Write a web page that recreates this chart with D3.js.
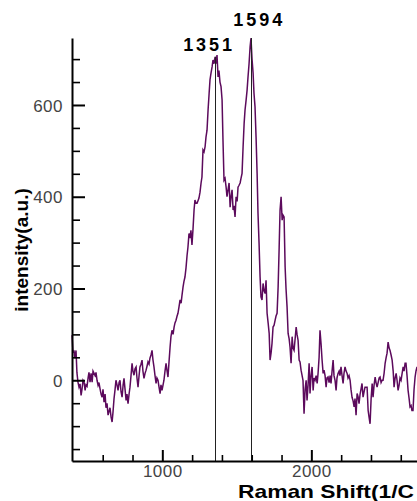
<!DOCTYPE html>
<html>
<head>
<meta charset="utf-8">
<script src="https://cdn.jsdelivr.net/npm/d3@7"></script>
<style>
  body { margin: 0; background: #fff; }
  svg { display: block; font-family: "Liberation Sans", Arial, sans-serif; }
</style>
</head>
<body>
<svg id="chart" width="417" height="501"></svg>
<script>
'use strict'

// ------ Data ------
// Raman shift (1/cm) of each reading
const shifts = [
  394, 401, 407, 414, 421, 427, 434, 441, 448, 455,
  461, 468, 475, 482, 488, 495, 502, 508, 515, 522,
  529, 535, 542, 549, 555, 562, 569, 575, 582, 589,
  596, 602, 609, 616, 622, 629, 636, 649, 656, 663,
  669, 676, 683, 689, 696, 703, 710, 716, 723, 730,
  737, 743, 750, 757, 763, 770, 777, 783, 790, 797,
  803, 810, 817, 824, 830, 837, 844, 850, 857, 864,
  870, 877, 884, 891, 897, 904, 911, 917, 924, 931,
  937, 944, 951, 958, 964, 971, 978, 985, 991, 998,
  1005, 1011, 1018, 1025, 1032, 1038, 1045, 1052, 1058, 1065,
  1072, 1079, 1085, 1092, 1099, 1105, 1112, 1119, 1126, 1132,
  1139, 1145, 1152, 1159, 1166, 1172, 1179, 1186, 1192, 1199,
  1206, 1213, 1219, 1226, 1233, 1240, 1246, 1253, 1260, 1266,
  1273, 1280, 1287, 1293, 1300, 1307, 1314, 1320, 1327, 1334,
  1340, 1347, 1354, 1360, 1367, 1374, 1380, 1387, 1394, 1401,
  1407, 1414, 1421, 1428, 1434, 1441, 1448, 1455, 1461, 1468,
  1475, 1481, 1488, 1495, 1502, 1508, 1515, 1522, 1528, 1535,
  1542, 1549, 1555, 1562, 1569, 1575, 1582, 1589, 1595, 1602,
  1609, 1615, 1622, 1629, 1636, 1642, 1649, 1656, 1662, 1669,
  1676, 1683, 1690, 1696, 1703, 1710, 1717, 1723, 1730, 1736,
  1743, 1750, 1757, 1763, 1770, 1777, 1784, 1790, 1797, 1804,
  1810, 1817, 1824, 1830, 1837, 1844, 1851, 1857, 1864, 1871,
  1877, 1884, 1891, 1898, 1904, 1911, 1918, 1924, 1931, 1938,
  1944, 1951, 1958, 1965, 1971, 1978, 1985, 1991, 1998, 2005,
  2012, 2018, 2025, 2032, 2039, 2045, 2052, 2058, 2065, 2072,
  2079, 2085, 2092, 2099, 2105, 2112, 2119, 2126, 2132, 2139,
  2146, 2152, 2159, 2166, 2172, 2179, 2186, 2192, 2199, 2206,
  2213, 2219, 2226, 2233, 2240, 2246, 2253, 2260, 2266, 2273,
  2280, 2287, 2293, 2300, 2307, 2313, 2320, 2327, 2333, 2340,
  2347, 2354, 2360, 2367, 2374, 2381, 2387, 2394, 2401, 2408,
  2414, 2421, 2428, 2434, 2441, 2448, 2455, 2461, 2468, 2475,
  2481, 2488, 2495, 2502, 2508, 2515, 2522, 2528, 2535, 2542,
  2549, 2555, 2562, 2569, 2575, 2582, 2589, 2595, 2602, 2609,
  2616, 2622, 2629, 2635, 2642, 2649, 2656, 2662, 2669, 2675,
  2682, 2689, 2696, 2702, 2709, 2720
]

// intensity (a.u.) at each shift above
const intensity = [
  98, 60, 65, 48, 65, 17, -4, -15, -8, -33,
  -20, 0, -4, -22, -10, -13, 5, 17, -4, 15,
  -4, 20, 15, 10, 17, 0, -11, -5, -18, -30,
  -37, -20, -48, -30, -60, -50, -76, -60, -80, -91,
  -70, -40, -20, 0, -10, -22, -5, 0, -25, -37,
  -10, 4, -20, -44, -30, -51, -30, -15, 10, 37,
  20, 11, 25, 29, 5, -15, 10, 29, 35, 44,
  20, 4, 15, 22, 30, 40, 35, 48, 55, 65,
  45, 29, 10, -7, 5, 0, -15, -29, -10, -22,
  -10, 0, 20, 37, 20, 7, 40, 72, 95, 109,
  100, 116, 125, 131, 140, 146, 160, 175, 168, 185,
  203, 215, 225, 245, 272, 290, 320, 310, 327, 295,
  330, 371, 393, 386, 386, 392, 397, 410, 430, 443,
  502, 498, 509, 530, 545, 589, 625, 655, 670, 683,
  698, 690, 705, 690, 709, 661, 675, 650, 640, 611,
  524, 436, 440, 421, 400, 415, 430, 377, 400, 415,
  371, 380, 356, 400, 390, 421, 425, 430, 440, 451,
  509, 560, 589, 610, 633, 661, 690, 727, 746, 700,
  670, 626, 596, 530, 451, 364, 300, 225, 182, 175,
  211, 195, 189, 218, 146, 125, 102, 44, 60, 80,
  116, 120, 131, 140, 146, 203, 290, 371, 400, 349,
  360, 356, 247, 200, 160, 102, 90, 72, 37, 95,
  70, 65, 90, 116, 100, 87, 44, 40, 22, 10,
  0, -73, -20, 0, -44, -10, 37, -29, 10, 29,
  -22, 5, 0, 10, -7, 15, 50, 109, 80, 44,
  15, 22, 10, -15, 5, 7, -5, 10, -7, 20,
  44, 10, 0, -22, 5, 15, 20, 10, 29, 10,
  -7, 15, 29, 20, 15, 5, 10, 0, -20, -37,
  -45, -58, -40, -76, -29, -35, -51, -30, -20, -7,
  -37, -25, -15, -15, -15, -66, -80, -95, -40, -7,
  -37, -10, 7, -5, -15, -5, 5, 7, -5, 0,
  0, 15, 37, 50, 59, 83, 70, 65, 55, 44,
  20, -15, 5, 15, 0, -22, -10, 5, 0, 15,
  29, 20, 37, 37, 10, -22, -40, -58, -55, -66,
  -66, -20, 7, 20, 29, 10
]

// marked peaks
const peakShifts = [1351, 1594]
const peakTops = [705, 746]
const peakLabels = ['1351', '1594']

// tick values
const xMajorTicks = [1000, 2000]
const xMinorTicks = [600, 800, 1200, 1400, 1600, 1800, 2200, 2400, 2600]
const yMajorTicks = [0, 200, 400, 600]
const yMinorTicks = [-150, -100, -50, 50, 100, 150, 250, 300, 350, 450, 500, 550, 650, 700]

if (shifts.length !== intensity.length) console.warn('data length mismatch', shifts.length, intensity.length)

// ------ Scales ------
const svg = d3.select('#chart')

const x = d3.scaleLinear().domain([394, 2729]).range([72, 420])
const y = d3.scaleLinear().domain([-176, 746]).range([461, 38])

const spectrum = d3.zip(shifts, intensity)

// ------ Spectrum line ------
const line = d3.line()
  .x(function (d) { return x(d[0]) })
  .y(function (d) { return y(d[1]) })

svg.append('path')
  .datum(spectrum)
  .attr('fill', 'none')
  .attr('stroke', '#5c0a5c')
  .attr('stroke-width', 1.5)
  .attr('stroke-linejoin', 'miter')
  .attr('d', line)

// ------ Peak markers ------
const labelNudge = [[-7, 6], [7, 12]]

svg.selectAll('.peak-line')
  .data(peakShifts)
  .enter().append('line')
  .attr('class', 'peak-line')
  .attr('x1', function (d) { return Math.round(x(d)) + 0.5 })
  .attr('x2', function (d) { return Math.round(x(d)) + 0.5 })
  .attr('y1', function (d, i) { return y(peakTops[i]) })
  .attr('y2', y.range()[0])
  .attr('stroke', '#222')
  .attr('stroke-width', 1)

svg.selectAll('.peak-label')
  .data(peakLabels)
  .enter().append('text')
  .attr('class', 'peak-label')
  .attr('x', function (d, i) { return x(peakShifts[i]) + labelNudge[i][0] })
  .attr('y', function (d, i) { return y(peakTops[i]) - labelNudge[i][1] })
  .attr('text-anchor', 'middle')
  .attr('font-size', 18)
  .attr('font-weight', 'bold')
  .attr('textLength', 49)
  .attr('lengthAdjust', 'spacing')
  .attr('fill', '#000')
  .text(function (d) { return d })

// ------ Axes ------
function styleAxis (g) {
  g.select('.domain').attr('stroke', '#000').attr('stroke-width', 2)
  g.selectAll('.tick line').attr('stroke', '#000').attr('stroke-width', 2)
  g.selectAll('.tick text')
    .attr('fill', '#444')
    .attr('font-size', 17)
    .attr('letter-spacing', 0.5)
    .attr('font-family', '"Liberation Sans", Arial, sans-serif')
}

svg.append('g')
  .attr('transform', 'translate(72,0)')
  .call(d3.axisLeft(y).tickValues(yMinorTicks).tickSize(-8).tickFormat(''))
  .call(function (g) { g.select('.domain').remove() })
  .call(function (g) { g.selectAll('.tick line').attr('stroke', '#000').attr('stroke-width', 1.6) })

svg.append('g')
  .attr('transform', 'translate(72,0)')
  .call(d3.axisLeft(y).tickValues(yMajorTicks).tickSize(-13).tickSizeOuter(0).tickPadding(9))
  .call(styleAxis)
  .call(function (g) { g.selectAll('.tick text').attr('dy', '0.36em') })

svg.append('g')
  .attr('transform', 'translate(0,461)')
  .call(d3.axisBottom(x).tickValues(xMinorTicks).tickSize(-6).tickFormat(''))
  .call(function (g) { g.select('.domain').remove() })
  .call(function (g) { g.selectAll('.tick line').attr('stroke', '#000').attr('stroke-width', 1.6) })

svg.append('g')
  .attr('transform', 'translate(0,461)')
  .call(d3.axisBottom(x).tickValues(xMajorTicks).tickSize(-11).tickSizeOuter(0).tickPadding(4).tickFormat(d3.format('d')))
  .call(styleAxis)

// ------ Axis titles ------
svg.append('text')
  .attr('x', 238)
  .attr('y', 498)
  .attr('font-size', 18.5)
  .attr('font-weight', 'bold')
  .attr('textLength', 176)
  .attr('lengthAdjust', 'spacingAndGlyphs')
  .attr('fill', '#000')
  .text('Raman Shift(1/C')

svg.append('text')
  .attr('transform', 'translate(28,250) rotate(-90)')
  .attr('text-anchor', 'middle')
  .attr('font-size', 19)
  .attr('font-weight', 'bold')
  .attr('fill', '#000')
  .text('intensity(a.u.)')
</script>
</body>
</html>
